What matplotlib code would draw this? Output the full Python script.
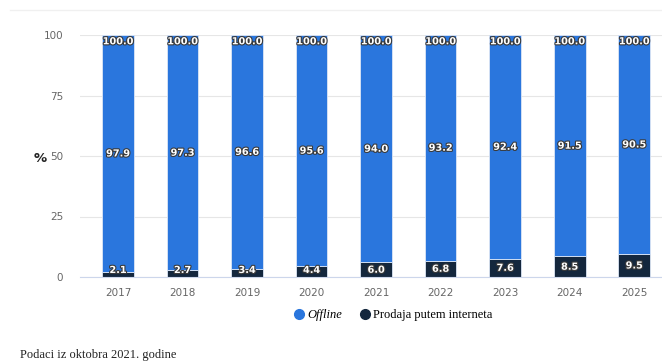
import matplotlib.pyplot as plt
import matplotlib.patheffects as pe
from matplotlib.lines import Line2D

years = ['2017', '2018', '2019', '2020', '2021', '2022', '2023', '2024', '2025']
online = [2.1, 2.7, 3.4, 4.4, 6.0, 6.8, 7.6, 8.5, 9.5]
offline = [97.9, 97.3, 96.6, 95.6, 94.0, 93.2, 92.4, 91.5, 90.5]
totals = [100.0] * len(years)

blue = '#2a76dd'
dark = '#14273d'

fig = plt.figure(figsize=(6.62, 3.62), dpi=100)
ax = fig.add_axes([80 / 662, 1 - 277 / 362, 1 - 80 / 662, 242 / 362])

x = list(range(len(years)))
ax.bar(x, online, width=0.49, color=dark, edgecolor='#dce6f5', linewidth=0.6, zorder=3)
ax.bar(x, offline, width=0.49, bottom=online, color=blue, edgecolor='#dce6f5',
       linewidth=0.6, zorder=3)

ax.set_xlim(-0.59, 8.43)
ax.set_ylim(0, 100)
ax.set_yticks([0, 25, 50, 75, 100])
ax.set_xticks(x)
ax.set_xticklabels(years)
ax.tick_params(axis='both', length=0, colors='#666666', labelsize=7.5)
ax.tick_params(axis='x', pad=8)
ax.tick_params(axis='y', pad=12)
ax.grid(axis='y', color='#e6e6e6', linewidth=0.8, zorder=0)
for s in ['top', 'right', 'left']:
    ax.spines[s].set_visible(False)
ax.spines['bottom'].set_color('#ccd6eb')
ax.spines['bottom'].set_linewidth(0.8)
ax.spines['bottom'].set_zorder(4)

fx = [pe.withStroke(linewidth=1.6, foreground='#3a3a3a')]
lab = dict(ha='center', va='center', color='white', fontsize=7, fontweight='bold',
           path_effects=fx, zorder=5)
for i in x:
    ax.text(i, max(online[i] / 2, 2.9), f'{online[i]:.1f}', **lab)
    ax.text(i, online[i] + offline[i] / 2, f'{offline[i]:.1f}', **lab)
    ax.text(i, totals[i] - 2.6, f'{totals[i]:.1f}', **lab)

fig.text(40 / 662, 1 - 158 / 362, '%', fontsize=9.5, fontweight='bold', color='#222222',
         ha='center', va='center')

handles = [Line2D([], [], marker='o', linestyle='', color=blue, markersize=7),
           Line2D([], [], marker='o', linestyle='', color=dark, markersize=7)]
leg = fig.legend(handles, ['Offline', 'Prodaja putem interneta'], loc='center',
                 bbox_to_anchor=(392 / 662, 1 - 315 / 362), ncol=2, frameon=False,
                 handletextpad=0.1, columnspacing=1.2, handlelength=1.2,
                 prop={'family': 'Liberation Serif', 'size': 9})
leg.get_texts()[0].set_fontstyle('italic')

fig.add_artist(Line2D([10 / 662, 1], [1 - 10 / 362] * 2, color='#f0f0f0', linewidth=1))

fig.text(20 / 662, 1 - 355 / 362, 'Podaci iz oktobra 2021. godine', fontsize=9,
         family='Liberation Serif', color='#222222', va='center')

fig.savefig('out.png', dpi=100)
